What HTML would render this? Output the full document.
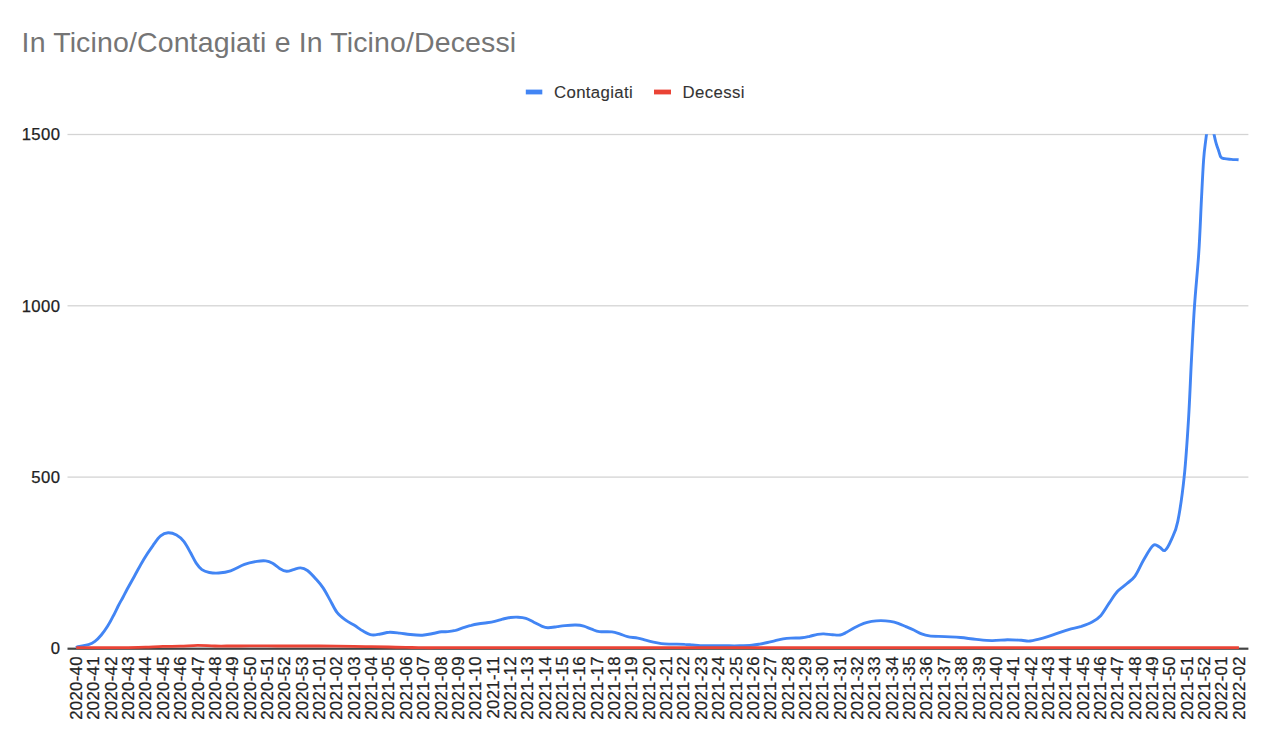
<!DOCTYPE html><html><head><meta charset="utf-8"><style>html,body{margin:0;padding:0;background:#fff;}svg{display:block;}#w{width:1280px;height:747px;overflow:hidden;}</style></head><body><div id="w">
<svg width="1280" height="747" viewBox="0 0 1280 747" font-family='"Liberation Sans", sans-serif'>
<g>
<style>.ax{font-size:16.7px;fill:#222;stroke:#222;stroke-width:0.25px}.lg{font-size:16.8px;fill:#333;stroke:#333;stroke-width:0.1px}.tt{font-size:28.5px;fill:#757575;stroke:#757575;stroke-width:0px}</style>
<rect width="1280" height="747" fill="#fff"/>
<text x="21.6" y="52" class="tt" letter-spacing="0.13">In Ticino/Contagiati e In Ticino/Decessi</text>
<rect x="525.8" y="89.6" width="16.5" height="4.8" fill="#4285f4"/>
<text x="554" y="97.6" class="lg" letter-spacing="0.35">Contagiati</text>
<rect x="654" y="89.6" width="17" height="4.8" fill="#ea4335"/>
<text x="682.6" y="97.6" class="lg" letter-spacing="0.35">Decessi</text>
<rect x="67.5" y="476.45" width="1180.9" height="1.3" fill="#d4d4d4"/>
<rect x="67.5" y="305.15" width="1180.9" height="1.3" fill="#d4d4d4"/>
<rect x="67.5" y="133.85" width="1180.9" height="1.3" fill="#d4d4d4"/>
<text x="60.4" y="654.1" class="ax" letter-spacing="0.4" text-anchor="end">0</text>
<text x="60.4" y="482.8" class="ax" letter-spacing="0.4" text-anchor="end">500</text>
<text x="60.4" y="311.5" class="ax" letter-spacing="0.4" text-anchor="end">1000</text>
<text x="60.4" y="140.2" class="ax" letter-spacing="0.4" text-anchor="end">1500</text>
<text transform="translate(82.08,656.2) rotate(-90)" class="ax" letter-spacing="0.33" text-anchor="end">2020-40</text>
<text transform="translate(99.43,656.2) rotate(-90)" class="ax" letter-spacing="0.33" text-anchor="end">2020-41</text>
<text transform="translate(116.79,656.2) rotate(-90)" class="ax" letter-spacing="0.33" text-anchor="end">2020-42</text>
<text transform="translate(134.14,656.2) rotate(-90)" class="ax" letter-spacing="0.33" text-anchor="end">2020-43</text>
<text transform="translate(151.49,656.2) rotate(-90)" class="ax" letter-spacing="0.33" text-anchor="end">2020-44</text>
<text transform="translate(168.85,656.2) rotate(-90)" class="ax" letter-spacing="0.33" text-anchor="end">2020-45</text>
<text transform="translate(186.20,656.2) rotate(-90)" class="ax" letter-spacing="0.33" text-anchor="end">2020-46</text>
<text transform="translate(203.56,656.2) rotate(-90)" class="ax" letter-spacing="0.33" text-anchor="end">2020-47</text>
<text transform="translate(220.91,656.2) rotate(-90)" class="ax" letter-spacing="0.33" text-anchor="end">2020-48</text>
<text transform="translate(238.27,656.2) rotate(-90)" class="ax" letter-spacing="0.33" text-anchor="end">2020-49</text>
<text transform="translate(255.62,656.2) rotate(-90)" class="ax" letter-spacing="0.33" text-anchor="end">2020-50</text>
<text transform="translate(272.98,656.2) rotate(-90)" class="ax" letter-spacing="0.33" text-anchor="end">2020-51</text>
<text transform="translate(290.33,656.2) rotate(-90)" class="ax" letter-spacing="0.33" text-anchor="end">2020-52</text>
<text transform="translate(307.68,656.2) rotate(-90)" class="ax" letter-spacing="0.33" text-anchor="end">2020-53</text>
<text transform="translate(325.04,656.2) rotate(-90)" class="ax" letter-spacing="0.33" text-anchor="end">2021-01</text>
<text transform="translate(342.39,656.2) rotate(-90)" class="ax" letter-spacing="0.33" text-anchor="end">2021-02</text>
<text transform="translate(359.75,656.2) rotate(-90)" class="ax" letter-spacing="0.33" text-anchor="end">2021-03</text>
<text transform="translate(377.10,656.2) rotate(-90)" class="ax" letter-spacing="0.33" text-anchor="end">2021-04</text>
<text transform="translate(394.46,656.2) rotate(-90)" class="ax" letter-spacing="0.33" text-anchor="end">2021-05</text>
<text transform="translate(411.81,656.2) rotate(-90)" class="ax" letter-spacing="0.33" text-anchor="end">2021-06</text>
<text transform="translate(429.17,656.2) rotate(-90)" class="ax" letter-spacing="0.33" text-anchor="end">2021-07</text>
<text transform="translate(446.52,656.2) rotate(-90)" class="ax" letter-spacing="0.33" text-anchor="end">2021-08</text>
<text transform="translate(463.87,656.2) rotate(-90)" class="ax" letter-spacing="0.33" text-anchor="end">2021-09</text>
<text transform="translate(481.23,656.2) rotate(-90)" class="ax" letter-spacing="0.33" text-anchor="end">2021-10</text>
<text transform="translate(498.58,656.2) rotate(-90)" class="ax" letter-spacing="0.33" text-anchor="end">2021-11</text>
<text transform="translate(515.94,656.2) rotate(-90)" class="ax" letter-spacing="0.33" text-anchor="end">2021-12</text>
<text transform="translate(533.29,656.2) rotate(-90)" class="ax" letter-spacing="0.33" text-anchor="end">2021-13</text>
<text transform="translate(550.65,656.2) rotate(-90)" class="ax" letter-spacing="0.33" text-anchor="end">2021-14</text>
<text transform="translate(568.00,656.2) rotate(-90)" class="ax" letter-spacing="0.33" text-anchor="end">2021-15</text>
<text transform="translate(585.36,656.2) rotate(-90)" class="ax" letter-spacing="0.33" text-anchor="end">2021-16</text>
<text transform="translate(602.71,656.2) rotate(-90)" class="ax" letter-spacing="0.33" text-anchor="end">2021-17</text>
<text transform="translate(620.06,656.2) rotate(-90)" class="ax" letter-spacing="0.33" text-anchor="end">2021-18</text>
<text transform="translate(637.42,656.2) rotate(-90)" class="ax" letter-spacing="0.33" text-anchor="end">2021-19</text>
<text transform="translate(654.77,656.2) rotate(-90)" class="ax" letter-spacing="0.33" text-anchor="end">2021-20</text>
<text transform="translate(672.13,656.2) rotate(-90)" class="ax" letter-spacing="0.33" text-anchor="end">2021-21</text>
<text transform="translate(689.48,656.2) rotate(-90)" class="ax" letter-spacing="0.33" text-anchor="end">2021-22</text>
<text transform="translate(706.84,656.2) rotate(-90)" class="ax" letter-spacing="0.33" text-anchor="end">2021-23</text>
<text transform="translate(724.19,656.2) rotate(-90)" class="ax" letter-spacing="0.33" text-anchor="end">2021-24</text>
<text transform="translate(741.54,656.2) rotate(-90)" class="ax" letter-spacing="0.33" text-anchor="end">2021-25</text>
<text transform="translate(758.90,656.2) rotate(-90)" class="ax" letter-spacing="0.33" text-anchor="end">2021-26</text>
<text transform="translate(776.25,656.2) rotate(-90)" class="ax" letter-spacing="0.33" text-anchor="end">2021-27</text>
<text transform="translate(793.61,656.2) rotate(-90)" class="ax" letter-spacing="0.33" text-anchor="end">2021-28</text>
<text transform="translate(810.96,656.2) rotate(-90)" class="ax" letter-spacing="0.33" text-anchor="end">2021-29</text>
<text transform="translate(828.32,656.2) rotate(-90)" class="ax" letter-spacing="0.33" text-anchor="end">2021-30</text>
<text transform="translate(845.67,656.2) rotate(-90)" class="ax" letter-spacing="0.33" text-anchor="end">2021-31</text>
<text transform="translate(863.03,656.2) rotate(-90)" class="ax" letter-spacing="0.33" text-anchor="end">2021-32</text>
<text transform="translate(880.38,656.2) rotate(-90)" class="ax" letter-spacing="0.33" text-anchor="end">2021-33</text>
<text transform="translate(897.73,656.2) rotate(-90)" class="ax" letter-spacing="0.33" text-anchor="end">2021-34</text>
<text transform="translate(915.09,656.2) rotate(-90)" class="ax" letter-spacing="0.33" text-anchor="end">2021-35</text>
<text transform="translate(932.44,656.2) rotate(-90)" class="ax" letter-spacing="0.33" text-anchor="end">2021-36</text>
<text transform="translate(949.80,656.2) rotate(-90)" class="ax" letter-spacing="0.33" text-anchor="end">2021-37</text>
<text transform="translate(967.15,656.2) rotate(-90)" class="ax" letter-spacing="0.33" text-anchor="end">2021-38</text>
<text transform="translate(984.51,656.2) rotate(-90)" class="ax" letter-spacing="0.33" text-anchor="end">2021-39</text>
<text transform="translate(1001.86,656.2) rotate(-90)" class="ax" letter-spacing="0.33" text-anchor="end">2021-40</text>
<text transform="translate(1019.22,656.2) rotate(-90)" class="ax" letter-spacing="0.33" text-anchor="end">2021-41</text>
<text transform="translate(1036.57,656.2) rotate(-90)" class="ax" letter-spacing="0.33" text-anchor="end">2021-42</text>
<text transform="translate(1053.92,656.2) rotate(-90)" class="ax" letter-spacing="0.33" text-anchor="end">2021-43</text>
<text transform="translate(1071.28,656.2) rotate(-90)" class="ax" letter-spacing="0.33" text-anchor="end">2021-44</text>
<text transform="translate(1088.63,656.2) rotate(-90)" class="ax" letter-spacing="0.33" text-anchor="end">2021-45</text>
<text transform="translate(1105.99,656.2) rotate(-90)" class="ax" letter-spacing="0.33" text-anchor="end">2021-46</text>
<text transform="translate(1123.34,656.2) rotate(-90)" class="ax" letter-spacing="0.33" text-anchor="end">2021-47</text>
<text transform="translate(1140.70,656.2) rotate(-90)" class="ax" letter-spacing="0.33" text-anchor="end">2021-48</text>
<text transform="translate(1158.05,656.2) rotate(-90)" class="ax" letter-spacing="0.33" text-anchor="end">2021-49</text>
<text transform="translate(1175.41,656.2) rotate(-90)" class="ax" letter-spacing="0.33" text-anchor="end">2021-50</text>
<text transform="translate(1192.76,656.2) rotate(-90)" class="ax" letter-spacing="0.33" text-anchor="end">2021-51</text>
<text transform="translate(1210.11,656.2) rotate(-90)" class="ax" letter-spacing="0.33" text-anchor="end">2021-52</text>
<text transform="translate(1227.47,656.2) rotate(-90)" class="ax" letter-spacing="0.33" text-anchor="end">2022-01</text>
<text transform="translate(1244.82,656.2) rotate(-90)" class="ax" letter-spacing="0.33" text-anchor="end">2022-02</text>
<defs><clipPath id="pa"><rect x="67.5" y="134.3" width="1180.9" height="523.9"/></clipPath></defs>
<rect x="67.5" y="647.60" width="1180.9" height="2.2" fill="#444"/>
<g clip-path="url(#pa)" fill="none" stroke-linejoin="round" stroke-linecap="butt">
<path d="M76.2,648.0 C76.5,647.8 76.0,647.2 78.0,646.6 C80.0,646.0 85.7,645.5 88.5,644.6 C91.3,643.7 92.8,643.0 94.9,641.4 C97.0,639.8 99.2,637.5 101.3,635.0 C103.4,632.5 105.7,629.3 107.7,626.1 C109.7,622.9 111.7,619.1 113.4,615.7 C115.2,612.4 116.6,609.1 118.2,606.0 C119.8,602.9 121.5,600.0 123.0,597.2 C124.5,594.5 125.1,593.0 127.0,589.5 C128.9,586.0 131.6,581.2 134.4,576.2 C137.2,571.2 140.6,564.5 143.7,559.4 C146.8,554.2 150.3,549.2 153.1,545.3 C155.9,541.4 158.1,538.0 160.6,535.9 C163.1,533.8 165.4,532.9 168.1,532.7 C170.8,532.6 173.8,533.5 176.5,535.0 C179.2,536.5 181.7,538.6 184.0,541.6 C186.3,544.6 188.6,549.2 190.6,552.8 C192.6,556.4 194.3,560.3 196.2,563.1 C198.1,565.9 199.7,568.1 201.9,569.7 C204.1,571.3 206.5,572.0 209.3,572.5 C212.1,573.0 215.1,573.3 218.7,573.0 C222.2,572.7 226.3,572.2 230.6,570.8 C234.9,569.4 240.1,566.0 244.5,564.4 C248.9,562.8 253.5,562.0 257.0,561.4 C260.5,560.8 263.1,560.6 265.7,560.9 C268.3,561.2 270.3,562.0 272.6,563.2 C274.9,564.5 277.3,567.0 279.6,568.4 C281.9,569.8 284.3,571.1 286.6,571.3 C288.9,571.5 291.2,570.2 293.5,569.6 C295.8,569.0 298.2,567.8 300.5,567.9 C302.8,568.0 304.8,568.6 307.4,570.5 C310.0,572.4 313.5,576.3 316.1,579.2 C318.7,582.1 320.8,584.4 323.1,587.9 C325.4,591.4 327.8,596.0 330.1,600.1 C332.4,604.2 334.4,609.0 337.0,612.3 C339.6,615.6 342.8,617.9 345.7,620.1 C348.6,622.3 351.5,623.5 354.4,625.3 C357.3,627.1 360.2,629.5 363.1,631.1 C366.0,632.7 368.9,634.4 371.8,634.9 C374.7,635.4 377.6,634.4 380.5,634.0 C383.4,633.6 386.1,632.4 389.3,632.3 C392.5,632.1 396.2,632.7 399.7,633.1 C403.2,633.5 406.3,634.1 410.1,634.5 C413.9,634.9 418.5,635.4 422.3,635.2 C426.1,635.0 429.6,634.1 432.8,633.5 C436.0,632.9 439.0,632.1 441.5,631.8 C444.0,631.5 445.4,631.9 447.8,631.6 C450.2,631.4 453.0,630.9 455.6,630.3 C458.2,629.6 460.8,628.5 463.4,627.7 C466.0,626.9 468.7,625.9 471.3,625.3 C473.9,624.6 476.5,624.2 479.1,623.8 C481.7,623.4 484.3,623.2 486.9,622.8 C489.5,622.4 492.1,622.0 494.7,621.4 C497.3,620.8 499.9,619.8 502.5,619.1 C505.1,618.5 507.7,617.8 510.3,617.5 C512.9,617.2 515.5,617.1 518.1,617.2 C520.7,617.3 523.3,617.5 525.9,618.3 C528.5,619.1 531.2,620.9 533.8,622.2 C536.4,623.5 539.3,625.2 541.6,626.1 C543.9,627.0 545.2,627.6 547.8,627.7 C550.4,627.8 554.3,627.0 557.2,626.6 C560.1,626.2 561.9,625.9 565.0,625.6 C568.1,625.3 572.8,624.9 575.9,625.0 C579.0,625.1 581.2,625.4 583.8,626.1 C586.4,626.8 589.0,628.3 591.6,629.2 C594.2,630.1 596.0,631.2 599.4,631.6 C602.8,632.0 608.5,631.5 611.9,631.9 C615.3,632.3 617.1,633.1 619.7,633.9 C622.3,634.7 624.5,635.9 627.5,636.6 C630.5,637.3 634.8,637.5 637.8,638.1 C640.8,638.7 643.0,639.5 645.6,640.2 C648.2,640.9 650.8,641.6 653.4,642.2 C656.0,642.8 658.7,643.3 661.3,643.6 C663.9,643.9 666.5,644.0 669.1,644.1 C671.7,644.2 674.3,644.1 676.9,644.1 C679.5,644.1 682.1,644.2 684.7,644.4 C687.3,644.5 689.9,644.8 692.5,645.0 C695.1,645.2 697.7,645.5 700.3,645.6 C702.9,645.7 704.2,645.8 708.1,645.8 C712.0,645.8 718.6,645.8 723.8,645.8 C729.0,645.8 734.7,645.9 739.4,645.8 C744.1,645.7 748.5,645.6 751.9,645.3 C755.3,645.0 757.1,644.6 759.7,644.1 C762.3,643.6 764.9,643.1 767.5,642.5 C770.1,641.9 772.7,641.2 775.3,640.6 C777.9,640.0 780.5,639.3 783.1,638.9 C785.7,638.5 787.8,638.3 790.9,638.1 C794.0,637.9 798.8,638.1 801.9,637.8 C805.0,637.5 807.1,636.9 809.7,636.3 C812.3,635.7 815.1,634.8 817.5,634.4 C819.9,634.0 821.3,633.8 823.8,633.9 C826.3,634.0 829.8,634.5 832.5,634.7 C835.2,634.9 837.9,635.4 840.3,635.0 C842.6,634.6 844.2,633.5 846.6,632.3 C849.0,631.1 851.5,629.2 854.4,627.7 C857.3,626.2 860.9,624.5 863.8,623.4 C866.7,622.3 868.8,621.9 871.6,621.4 C874.5,620.9 877.8,620.6 880.9,620.6 C884.0,620.6 887.4,620.9 890.3,621.4 C893.2,621.9 895.5,622.5 898.1,623.4 C900.7,624.3 903.3,625.5 905.9,626.6 C908.5,627.7 911.2,628.8 913.8,630.0 C916.4,631.2 919.0,632.9 921.6,633.9 C924.2,634.9 925.5,635.4 929.4,635.9 C933.3,636.4 939.8,636.3 945.0,636.6 C950.2,636.9 955.4,637.0 960.6,637.5 C965.8,638.0 971.1,638.9 976.3,639.4 C981.5,639.9 986.7,640.5 991.9,640.6 C997.1,640.7 1002.6,639.8 1007.5,639.7 C1012.4,639.7 1017.6,640.1 1021.4,640.3 C1025.2,640.5 1026.4,641.4 1030.0,641.0 C1033.6,640.6 1038.6,639.4 1042.9,638.2 C1047.2,637.0 1051.4,635.3 1055.7,633.9 C1060.0,632.5 1064.3,630.9 1068.6,629.6 C1072.9,628.4 1077.5,627.6 1081.4,626.4 C1085.3,625.1 1088.9,623.9 1092.1,622.1 C1095.3,620.3 1097.8,618.9 1100.7,615.7 C1103.6,612.5 1106.5,607.0 1109.3,602.9 C1112.1,598.8 1114.9,594.2 1117.8,591.1 C1120.7,588.0 1123.5,586.5 1126.4,584.0 C1129.3,581.5 1132.1,580.1 1135.0,576.1 C1137.9,572.1 1140.6,565.1 1143.6,560.0 C1146.6,554.9 1150.5,547.5 1153.2,545.4 C1155.9,543.2 1157.6,546.3 1159.6,547.1 C1161.6,547.9 1163.0,551.6 1165.0,550.4 C1167.0,549.1 1169.3,544.4 1171.4,539.6 C1173.5,534.8 1175.7,531.9 1177.8,521.4 C1179.9,510.9 1182.4,494.0 1184.2,476.7 C1186.0,459.4 1187.4,437.4 1188.6,417.8 C1189.8,398.2 1190.5,377.5 1191.5,358.9 C1192.5,340.2 1193.3,323.4 1194.5,305.9 C1195.7,288.4 1197.5,271.5 1198.7,253.9 C1199.9,236.3 1200.6,216.0 1201.4,200.3 C1202.2,184.7 1202.9,169.7 1203.6,160.0 C1204.3,150.3 1204.8,147.4 1205.5,142.1 C1206.2,136.8 1206.8,131.3 1207.5,128.0 C1208.2,124.7 1209.2,122.0 1210.0,122.0 C1210.8,122.0 1211.5,124.7 1212.5,128.0 C1213.5,131.3 1214.8,138.3 1215.8,142.1 C1216.8,145.9 1217.8,148.4 1218.7,150.9 C1219.6,153.4 1219.9,155.9 1220.9,157.2 C1221.9,158.5 1222.9,158.3 1224.6,158.7 C1226.3,159.1 1228.9,159.2 1231.2,159.4 C1233.5,159.6 1237.4,159.7 1238.6,159.8" stroke="#4285f4" stroke-width="2.9"/>
<path d="M76.2,647.7 C79.1,647.7 87.7,647.7 93.5,647.7 C99.3,647.7 105.1,647.7 110.9,647.7 C116.7,647.7 122.5,647.7 128.2,647.6 C134.0,647.5 139.8,647.4 145.6,647.2 C151.4,647.0 157.2,646.5 162.9,646.4 C168.7,646.2 174.5,646.4 180.3,646.2 C186.1,646.0 191.9,645.4 197.7,645.3 C203.4,645.3 209.2,645.9 215.0,646.0 C220.8,646.1 226.6,646.0 232.4,646.0 C238.2,646.0 243.9,645.9 249.7,645.8 C255.5,645.8 261.3,645.8 267.1,645.8 C272.9,645.9 278.6,646.0 284.4,646.0 C290.2,646.0 296.0,646.0 301.8,646.0 C307.6,646.0 313.4,646.0 319.1,646.0 C324.9,646.0 330.7,646.1 336.5,646.2 C342.3,646.2 348.1,646.3 353.8,646.4 C359.6,646.4 365.4,646.6 371.2,646.7 C377.0,646.8 382.8,646.9 388.6,647.0 C394.3,647.2 400.1,647.3 405.9,647.4 C411.7,647.5 417.5,647.7 423.3,647.7 C429.1,647.8 434.8,647.7 440.6,647.7 C446.4,647.7 452.2,647.7 458.0,647.7 C463.8,647.7 469.5,647.7 475.3,647.7 C481.1,647.7 486.9,647.7 492.7,647.7 C498.5,647.7 504.3,647.7 510.0,647.7 C515.8,647.7 521.6,647.7 527.4,647.7 C533.2,647.7 539.0,647.7 544.7,647.7 C550.5,647.7 556.3,647.7 562.1,647.7 C567.9,647.7 573.7,647.7 579.5,647.7 C585.2,647.7 591.0,647.7 596.8,647.7 C602.6,647.7 608.4,647.7 614.2,647.7 C619.9,647.7 625.7,647.7 631.5,647.7 C637.3,647.7 643.1,647.7 648.9,647.7 C654.7,647.7 660.4,647.7 666.2,647.7 C672.0,647.7 677.8,647.7 683.6,647.7 C689.4,647.7 695.2,647.7 700.9,647.7 C706.7,647.7 712.5,647.7 718.3,647.7 C724.1,647.7 729.9,647.7 735.6,647.7 C741.4,647.7 747.2,647.7 753.0,647.7 C758.8,647.7 764.6,647.7 770.4,647.7 C776.1,647.7 781.9,647.7 787.7,647.7 C793.5,647.7 799.3,647.7 805.1,647.7 C810.8,647.7 816.6,647.7 822.4,647.7 C828.2,647.7 834.0,647.7 839.8,647.7 C845.6,647.7 851.3,647.7 857.1,647.7 C862.9,647.7 868.7,647.7 874.5,647.7 C880.3,647.7 886.0,647.7 891.8,647.7 C897.6,647.7 903.4,647.7 909.2,647.7 C915.0,647.7 920.8,647.7 926.5,647.7 C932.3,647.7 938.1,647.7 943.9,647.7 C949.7,647.7 955.5,647.7 961.3,647.7 C967.0,647.7 972.8,647.7 978.6,647.7 C984.4,647.7 990.2,647.7 996.0,647.7 C1001.7,647.7 1007.5,647.7 1013.3,647.7 C1019.1,647.7 1024.9,647.7 1030.7,647.7 C1036.5,647.7 1042.2,647.7 1048.0,647.7 C1053.8,647.7 1059.6,647.7 1065.4,647.7 C1071.2,647.7 1076.9,647.7 1082.7,647.7 C1088.5,647.7 1094.3,647.7 1100.1,647.7 C1105.9,647.7 1111.7,647.7 1117.4,647.7 C1123.2,647.7 1129.0,647.7 1134.8,647.7 C1140.6,647.7 1146.4,647.7 1152.2,647.7 C1157.9,647.7 1163.7,647.7 1169.5,647.7 C1175.3,647.7 1181.1,647.7 1186.9,647.7 C1192.6,647.7 1198.4,647.7 1204.2,647.7 C1210.0,647.7 1215.8,647.7 1221.6,647.7 C1227.4,647.7 1236.0,647.7 1238.9,647.7" stroke="#ea4335" stroke-width="2.8"/>
</g>
</g></svg></div></body></html>
